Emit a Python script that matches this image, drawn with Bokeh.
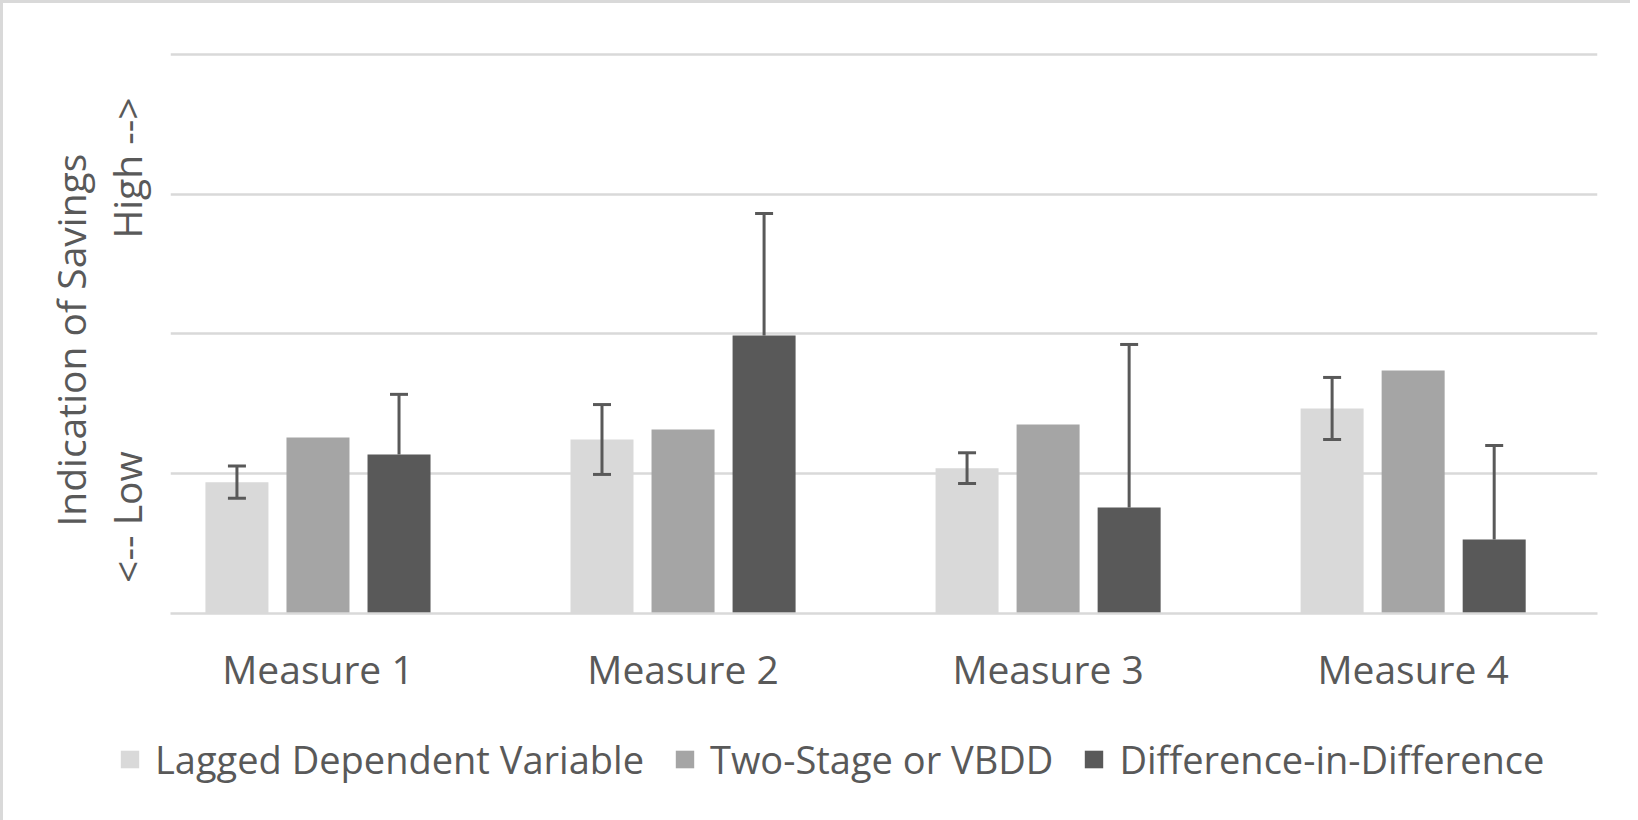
from bokeh.plotting import figure
from bokeh.layouts import column, row
from bokeh.models import (ColumnDataSource, FixedTicker, LinearAxis, Legend,
                          LegendItem, Whisker, TeeHead, Range1d)
from bokeh.embed import file_html
from bokeh.resources import INLINE

# ---------------- data ----------------
measures = ["Measure 1", "Measure 2", "Measure 3", "Measure 4"]
series = ["Lagged Dependent Variable", "Two-Stage or VBDD", "Difference-in-Difference"]
lagged = [0.94, 1.245, 1.04, 1.467]
lagged_err = [0.115, 0.25, 0.11, 0.222]
two_stage = [1.26, 1.317, 1.352, 1.739]
did = [1.138, 1.989, 0.758, 0.53]
did_err_upper = [0.43, 0.873, 1.167, 0.672]
grid_ticks = [0, 1, 2, 3, 4]
y_label_1 = "Indication of Savings"
y_label_2 = "<-- Low" + "\u00a0" * 21 + "High -->"

# ---------------- style ----------------
FONT = "Open Sans"
TXT = "#595959"
GRID = "#d9d9d9"
colors = ["#d9d9d9", "#a5a5a5", "#595959"]
offsets = [-0.222, 0.0, 0.222]
BAR_W = 0.1726
FS = "39px"

idx = list(range(len(measures)))

p = figure(width=1627, height=700, output_backend="svg", toolbar_location=None,
           x_range=Range1d(-0.404, 3.505), y_range=Range1d(0, 4.057),
           min_border_left=167, min_border_right=33, min_border_top=43,
           min_border_bottom=90)
p.outline_line_color = None
p.background_fill_color = "white"
p.border_fill_color = "white"

# grid
p.xgrid.visible = False
p.ygrid.ticker = FixedTicker(ticks=grid_ticks)
p.ygrid.grid_line_color = GRID
p.ygrid.grid_line_width = 2.5

# bars
values = [lagged, two_stage, did]
for vals, col, off in zip(values, colors, offsets):
    src = ColumnDataSource(dict(x=[i + off for i in idx], top=vals))
    p.vbar(x="x", top="top", width=BAR_W, bottom=0, source=src,
           fill_color=col, line_color=None)

# error bars
src_l = ColumnDataSource(dict(
    x=[i + offsets[0] for i in idx],
    upper=[v + e for v, e in zip(lagged, lagged_err)],
    lower=[v - e for v, e in zip(lagged, lagged_err)]))
w1 = Whisker(source=src_l, base="x", upper="upper", lower="lower",
             line_color=TXT, line_width=3, level="overlay",
             upper_head=TeeHead(size=18, line_color=TXT, line_width=3),
             lower_head=TeeHead(size=18, line_color=TXT, line_width=3))
p.add_layout(w1)

src_d = ColumnDataSource(dict(
    x=[i + offsets[2] for i in idx],
    upper=[v + e for v, e in zip(did, did_err_upper)],
    lower=did))
w2 = Whisker(source=src_d, base="x", upper="upper", lower="lower",
             line_color=TXT, line_width=3, level="overlay",
             upper_head=TeeHead(size=18, line_color=TXT, line_width=3),
             lower_head=None)
p.add_layout(w2)

# x axis
xa = p.xaxis[0]
xa.ticker = FixedTicker(ticks=idx)
xa.major_label_overrides = {i: m for i, m in zip(idx, measures)}
xa.major_tick_line_color = None
xa.minor_tick_line_color = None
xa.major_tick_out = 0
xa.major_tick_in = 0
xa.axis_line_color = GRID
xa.axis_line_width = 2.5
xa.major_label_text_font = FONT
xa.major_label_text_font_size = FS
xa.major_label_text_color = TXT
xa.major_label_standoff = 28


def label_axis(ax, text, standoff):
    ax.ticker = FixedTicker(ticks=[])
    ax.major_tick_line_color = None
    ax.minor_tick_line_color = None
    ax.major_tick_out = 0
    ax.major_tick_in = 0
    ax.axis_line_color = None
    ax.axis_label = text
    ax.axis_label_text_font = FONT
    ax.axis_label_text_font_size = FS
    ax.axis_label_text_font_style = "normal"
    ax.axis_label_text_color = TXT
    ax.axis_label_standoff = standoff


label_axis(p.yaxis[0], y_label_2 + "\u00a0\u00a0", 18)
ya2 = LinearAxis()
label_axis(ya2, y_label_1 + "\u00a0\u00a0", 0)
p.add_layout(ya2, "left")

# ---------------- legend strip ----------------
pl = figure(width=1627, height=117, output_backend="svg", toolbar_location=None,
            x_axis_location=None, y_axis_location=None, min_border=0,
            x_range=Range1d(0, 1), y_range=Range1d(0, 1))
pl.outline_line_color = None
pl.grid.visible = False
# swatch-only renderers (NaN data: nothing is drawn in the strip itself)
nan = float("nan")
leg_renderers = [pl.vbar(x=[nan], top=[nan], width=BAR_W, fill_color=c,
                         line_color=None) for c in colors]
items = [LegendItem(label=s, renderers=[r]) for s, r in zip(series, leg_renderers)]
legend = Legend(items=items, orientation="horizontal", location=(115, 35),
                glyph_width=23, glyph_height=22, label_standoff=14, spacing=29,
                padding=0, margin=0, border_line_color=None,
                background_fill_alpha=0, label_text_font=FONT,
                label_text_font_size="38px", label_text_color=TXT)
pl.add_layout(legend)

layout = column(p, row(pl), spacing=0)
layout.styles = {"border-top": "3px solid #d9d9d9", "border-left": "3px solid #d9d9d9"}

open("out.html", "w").write(file_html(layout, INLINE))
